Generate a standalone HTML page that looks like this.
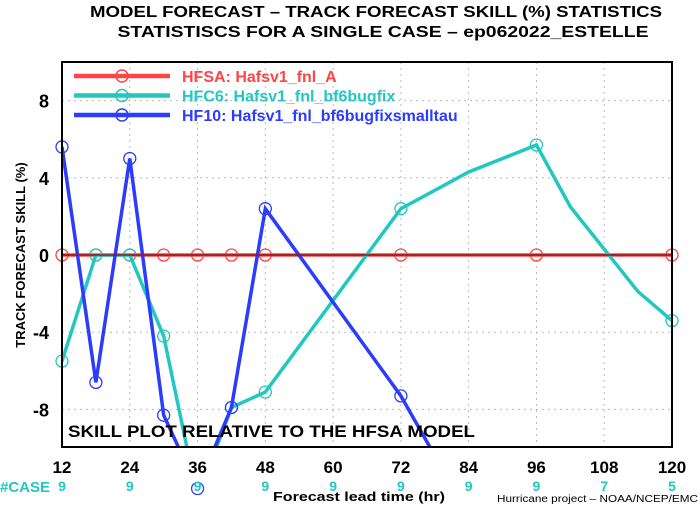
<!DOCTYPE html>
<html><head><meta charset="utf-8"><style>
body{margin:0;background:#fff;width:700px;height:506px;overflow:hidden}
svg{display:block;font-family:"Liberation Sans",sans-serif;font-weight:bold}
</style></head><body>
<svg id="c" width="700" height="506">
<defs><clipPath id="pc"><rect x="62" y="62" width="610" height="385"/></clipPath></defs>
<text x="376" y="17" font-size="16" text-anchor="middle" textLength="572" lengthAdjust="spacingAndGlyphs">MODEL FORECAST – TRACK FORECAST SKILL (%) STATISTICS</text>
<text x="383" y="37" font-size="16" text-anchor="middle" textLength="531" lengthAdjust="spacingAndGlyphs">STATISTISCS FOR A SINGLE CASE – ep062022_ESTELLE</text>
<g id="grid"></g>
<g id="series" clip-path="url(#pc)"></g>
<g id="marks"></g>
<rect x="62" y="62" width="610" height="385" fill="none" stroke="#000" stroke-width="2"/>
<g id="axes"></g>
<text x="68" y="437" font-size="17" textLength="407" lengthAdjust="spacingAndGlyphs">SKILL PLOT RELATIVE TO THE HFSA MODEL</text>
<text transform="translate(25,255) rotate(-90)" font-size="13" text-anchor="middle">TRACK FORECAST SKILL (%)</text>
<text x="0" y="492" font-size="15" fill="#20c8c0">#CASE</text>
<text x="359" y="501" font-size="13" text-anchor="middle" textLength="172" lengthAdjust="spacingAndGlyphs">Forecast lead time (hr)</text>
<text x="698" y="502" font-size="10" font-weight="normal" text-anchor="end" textLength="201" lengthAdjust="spacingAndGlyphs">Hurricane project – NOAA/NCEP/EMC</text>
<g id="legend"></g>
</svg>
<script>
const xTicks=[12,24,36,48,60,72,84,96,108,120];
const yTicks=[8,4,0,-4,-8];
const caseLeads=[12,24,36,48,60,72,84,96,108,120];
const caseCounts=[9,9,9,9,9,9,9,9,7,5];
const hfsaLeads=[12,18,24,30,36,42,48,60,72,84,96,108,120];
const hfsaVals=[0,0,0,0,0,0,0,0,0,0,0,0,0];
const hfc6Leads=[12,18,24,30,36,42,48,72,84,96,102,114,120];
const hfc6Vals=[-5.5,0,0,-4.2,-12.6,-7.9,-7.1,2.4,4.3,5.7,2.5,-1.9,-3.4];
const hf10Leads=[12,18,24,30,36,42,48,72,84];
const hf10Vals=[5.6,-6.6,5.0,-8.3,-12.1,-7.9,2.4,-7.3,-13.5];
const markerLeads=[12,18,24,30,36,42,48,72,96,120];
const seriesNames=["HFSA:  Hafsv1_fnl_A","HFC6:  Hafsv1_fnl_bf6bugfix","HF10:  Hafsv1_fnl_bf6bugfixsmalltau"];
const NS="http://www.w3.org/2000/svg";
const X=h=>62+(h-12)*610/108;
const Y=v=>255-v*19.3;
function mk(t,p,a){const e=document.createElementNS(NS,t);for(const k in a)e.setAttribute(k,a[k]);p.appendChild(e);return e;}
const grid=document.getElementById('grid'),axes=document.getElementById('axes');
xTicks.forEach(t=>{
 const g=mk('line',grid,{x1:X(t),x2:X(t),y1:62,y2:447,stroke:'#bbb','stroke-dasharray':'2,4'});
 
 
 const l=mk('text',axes,{x:X(t),y:473,'font-size':17,'text-anchor':'middle'});l.textContent=t;
 
 
});
yTicks.forEach(t=>{
 if(t!==0){const g=mk('line',grid,{x1:62,x2:672,y1:Y(t),y2:Y(t),stroke:'#bbb','stroke-dasharray':'2,4'});
 
 }
 const l=mk('text',axes,{x:49,y:Y(t)+7,'font-size':18,'text-anchor':'end'});l.textContent=t;
 
 
});
caseLeads.forEach((h,i)=>{const l=mk('text',axes,{x:X(h),y:491,'font-size':14,'text-anchor':'middle',fill:'#20c8c0'});l.textContent=caseCounts[i];
 
 });
const series=document.getElementById('series'),marks=document.getElementById('marks');
const defs=[[hfsaLeads,hfsaVals,'#ff4545','hfsa'],[hfc6Leads,hfc6Vals,'#22c8c0','hfc6'],[hf10Leads,hf10Vals,'#2b3cff','hf10']];
defs.forEach(([L,V,c,n])=>{
 const p=mk('polyline',series,{points:L.map((h,i)=>X(h)+','+Y(V[i])).join(' '),fill:'none',stroke:c,'stroke-width':3.5});
 
 
 L.forEach((h,i)=>{if(markerLeads.includes(h)&&V[i]>-12.3){const m=mk('circle',marks,{cx:X(h),cy:Y(V[i]),r:6,fill:'none',stroke:c,'stroke-width':1.3});
 
 }});
});
const z=mk('line',marks,{x1:62,x2:672,y1:Y(0),y2:Y(0),stroke:'#8b1a1a','stroke-width':1.5});


const lg=document.getElementById('legend');
defs.forEach((d,i)=>{const y=76+i*19.5;
 const g=mk('g',lg,{});
 
 
 mk('line',g,{x1:74,x2:170,y1:y,y2:y,stroke:d[2],'stroke-width':4.5});
 mk('circle',g,{cx:122,cy:y,r:6,fill:'none',stroke:d[2],'stroke-width':1.5});
 const t=mk('text',g,{x:182,y:y+6,'font-size':16,fill:d[2]});t.textContent=seriesNames[i];});
</script>
</body></html>
